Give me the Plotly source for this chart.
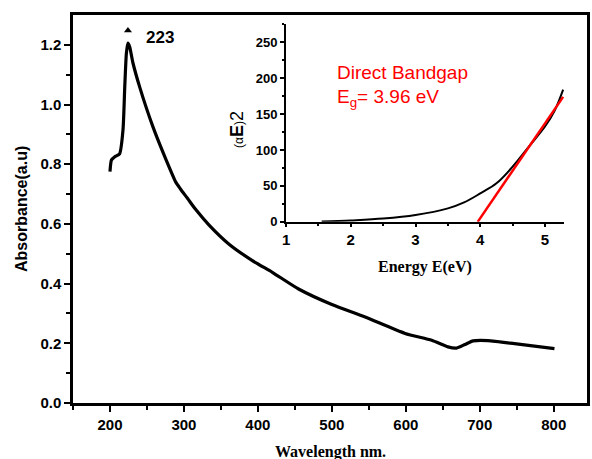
import plotly.graph_objects as go

# Main absorbance spectrum
wavelength = [200, 202, 206.5, 213, 217.6, 220, 222.2, 224.3, 226.6, 231, 240, 258, 276,
              289, 295, 305, 316, 334, 361, 392, 420, 455, 500, 545, 599, 635,
              657, 668.5, 680, 691, 711, 747, 801]
absorbance = [0.775, 0.814, 0.825, 0.835, 0.915, 1.06, 1.172, 1.206, 1.194, 1.14, 1.06,
              0.926, 0.814, 0.74, 0.718, 0.685, 0.648, 0.596, 0.532, 0.478, 0.437, 0.382,
              0.330, 0.288, 0.233, 0.210, 0.188, 0.184, 0.196, 0.208, 0.209, 0.199, 0.182]

# Inset Tauc plot
energy = [1.55, 2.0, 2.5, 3.0, 3.5, 3.75, 4.0, 4.25, 4.5, 4.75, 5.0, 5.15, 5.28]
alphaE2 = [0.5, 2, 4.5, 9.4, 18.7, 27, 39.6, 53.6, 76.8, 104.7, 132.7, 155, 184]
fit_energy = [3.96, 5.28]
fit_values = [0, 174]

x_ticks = [200, 300, 400, 500, 600, 700, 800]
y_ticks = [0, 0.2, 0.4, 0.6, 0.8, 1.0, 1.2]
y_ticklabels = ["0.0", "0.2", "0.4", "0.6", "0.8", "1.0", "1.2"]
e_ticks = [1, 2, 3, 4, 5]
a_ticks = [0, 50, 100, 150, 200, 250]

peak_x = [224.3]
peak_y = [1.248]

fig = go.Figure()
fig.add_trace(go.Scatter(x=wavelength, y=absorbance, mode="lines", line_shape="spline",
                         line=dict(color="black", width=3.2, smoothing=0.6), xaxis="x", yaxis="y"))
fig.add_trace(go.Scatter(x=peak_x, y=peak_y, mode="markers",
                         marker=dict(symbol="triangle-up", size=7, color="black"),
                         xaxis="x", yaxis="y"))
fig.add_trace(go.Scatter(x=energy, y=alphaE2, mode="lines", line_shape="spline",
                         line=dict(color="black", width=2), xaxis="x2", yaxis="y2"))
fig.add_trace(go.Scatter(x=fit_energy, y=fit_values, mode="lines",
                         line=dict(color="red", width=2.5), xaxis="x2", yaxis="y2"))

sans = "Arial, Liberation Sans"
serif = "Times New Roman, Liberation Serif"
tickfont_main = dict(family=sans, size=15, color="black")
tickfont_inset = dict(family=sans, size=13, color="black")

def bold(vals):
    return ["<b>%s</b>" % v for v in vals]

fig.update_layout(
    width=592, height=459,
    margin=dict(l=73, r=2, t=15, b=56.3),
    paper_bgcolor="white", plot_bgcolor="white",
    showlegend=False,
    xaxis=dict(domain=[0, 1], range=[150, 845], tickvals=x_ticks, ticktext=bold(x_ticks),
               ticks="outside", ticklen=6, tickwidth=2, tickcolor="black",
               minor=dict(tickvals=[150, 250, 350, 450, 550, 650, 750], ticks="outside",
                          ticklen=4, tickwidth=2, tickcolor="black"),
               showline=True, linewidth=2.5, linecolor="black", mirror=True,
               showgrid=False, zeroline=False, tickfont=tickfont_main, anchor="y"),
    yaxis=dict(domain=[0, 1], range=[0, 1.3], tickvals=y_ticks, ticktext=bold(y_ticklabels),
               ticks="outside", ticklen=6, tickwidth=2, tickcolor="black",
               minor=dict(tickvals=[0.1, 0.3, 0.5, 0.7, 0.9, 1.1], ticks="outside",
                          ticklen=4, tickwidth=2, tickcolor="black"),
               showline=True, linewidth=2.5, linecolor="black", mirror=True,
               showgrid=False, zeroline=False, tickfont=tickfont_main, anchor="x"),
    xaxis2=dict(domain=[0.4145, 0.9561], range=[1, 5.3], tickvals=e_ticks, ticktext=bold(e_ticks),
                ticks="outside", ticklen=3, tickwidth=1.5, tickcolor="black",
                minor=dict(tickvals=[1.5, 2.5, 3.5, 4.5], ticks="outside", ticklen=2,
                           tickwidth=1.5, tickcolor="black"),
                showline=True, linewidth=2, linecolor="black", mirror=False,
                showgrid=False, zeroline=False, tickfont=tickfont_main, anchor="y2"),
    yaxis2=dict(domain=[0.4669, 0.976], range=[0, 275], tickvals=a_ticks, ticktext=bold(a_ticks),
                ticks="outside", ticklen=4, tickwidth=1.5, tickcolor="black",
                minor=dict(tickvals=[25, 75, 125, 175, 225, 275], ticks="outside", ticklen=2,
                           tickwidth=1.5, tickcolor="black"),
                showline=True, linewidth=2, linecolor="black", mirror=False,
                showgrid=False, zeroline=False, tickfont=tickfont_inset, anchor="x2"),
)

fig.add_annotation(x=0, y=0.5, xref="paper", yref="paper", xshift=-52, textangle=-90,
                   xanchor="center", yanchor="middle",
                   text="<b>Absorbance(a.u)</b>", showarrow=False,
                   font=dict(family=sans, size=16, color="black"))
fig.add_annotation(x=0.5, y=0, xref="paper", yref="paper", yshift=-49,
                   xanchor="center", yanchor="middle",
                   text="<b>Wavelength nm.</b>", showarrow=False,
                   font=dict(family=serif, size=16, color="black"))
fig.add_annotation(x=3.14, y=0, xref="x2", yref="y2 domain", yshift=-45,
                   xanchor="center", yanchor="middle",
                   text="<b>Energy E(eV)</b>", showarrow=False,
                   font=dict(family=serif, size=16, color="black"))
fig.add_annotation(x=246.5, y=1.225, xref="x", yref="y", xanchor="left", yanchor="middle",
                   text="<b>223</b>", showarrow=False,
                   font=dict(family=sans, size=17, color="black"))
fig.add_annotation(x=1.76, y=208, xref="x2", yref="y2", xanchor="left", yanchor="middle",
                   text="Direct Bandgap", showarrow=False,
                   font=dict(family=sans, size=19, color="red"))
fig.add_annotation(x=1.76, y=172, xref="x2", yref="y2", xanchor="left", yanchor="middle",
                   text="E<sub>g</sub>= 3.96 eV", showarrow=False,
                   font=dict(family=sans, size=19, color="red"))
fig.add_annotation(x=1, y=128, xref="x2", yref="y2", xshift=-49, textangle=-90,
                   xanchor="center", yanchor="middle",
                   text="<span style='font-size:12px'>(α</span><b>E</b><span style='font-size:12px'>)</span>2",
                   showarrow=False,
                   font=dict(family=sans, size=18, color="black"))

fig.write_html("out.html")
